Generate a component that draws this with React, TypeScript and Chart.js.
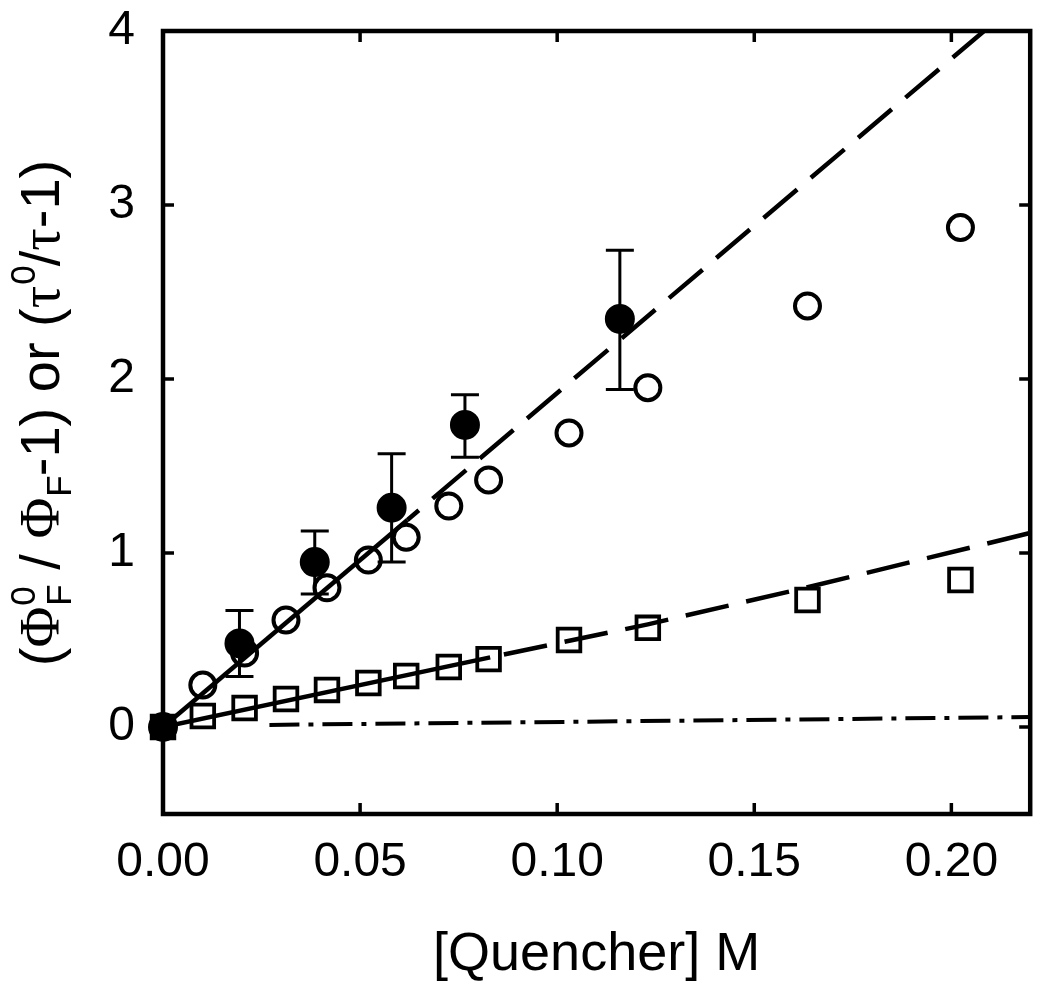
import { useEffect, useRef } from "react";
import { Chart, registerables } from "chart.js";

Chart.register(...registerables);

// ---- data ----
const xTicks = [0, 0.05, 0.1, 0.15, 0.2];
const yTicks = [0, 1, 2, 3, 4];

// filled circles (with error bars)
const filledX = [0, 0.0194, 0.0385, 0.058, 0.0766, 0.1159];
const filledY = [0, 0.48, 0.948, 1.26, 1.736, 2.345];
const filledLow = [0, 0.29, 0.764, 0.948, 1.55, 1.94];
const filledHigh = [0, 0.67, 1.126, 1.57, 1.91, 2.74];

// open circles
const openX = [0.0101, 0.0207, 0.0312, 0.0416, 0.0521, 0.0617, 0.0725, 0.0826, 0.103, 0.123, 0.1635, 0.2023];
const openY = [0.241, 0.425, 0.615, 0.8, 0.96, 1.09, 1.27, 1.42, 1.69, 1.95, 2.42, 2.87];

// open squares (origin square is filled)
const squareX = [0, 0.0101, 0.0207, 0.0312, 0.0416, 0.0521, 0.0617, 0.0725, 0.0826, 0.103, 0.123, 0.1635, 0.2023];
const squareY = [0, 0.063, 0.109, 0.161, 0.213, 0.253, 0.293, 0.345, 0.39, 0.5, 0.57, 0.73, 0.845];

// fit lines
const fitCircSolidX = [0, 0.062];
const fitCircSolidY = [0, 1.19];
const fitCircDashX = [0.062, 0.2083];
const fitCircDashY = [1.19, 4.0];
const fitSqSolidX = [0, 0.083];
const fitSqSolidY = [0, 0.4];
const fitSqDashX = [0.083, 0.123, 0.163, 0.22];
const fitSqDashY = [0.4, 0.59, 0.8, 1.115];
const dashDotX = [0.027, 0.22];
const dashDotY = [0.012, 0.057];

const xTitle = "[Quencher] M";

const pts = (xs: number[], ys: number[]) => xs.map((x, i) => ({ x, y: ys[i] }));

const SANS = "'Liberation Sans', Arial, Helvetica, sans-serif";
const SERIF = "'Liberation Serif', 'Times New Roman', serif";

const framePlugin = {
  id: "frame",
  beforeDatasetsDraw(chart: any) {
    const ctx = chart.ctx;
    const xs = chart.scales.x;
    const ys = chart.scales.y;
    ctx.save();
    ctx.strokeStyle = "#000";
    ctx.lineWidth = 3;
    const cap = 14;
    filledX.forEach((x, i) => {
      if (filledHigh[i] === filledLow[i]) return;
      const px = xs.getPixelForValue(x);
      const pTop = ys.getPixelForValue(filledHigh[i]);
      const pBot = ys.getPixelForValue(filledLow[i]);
      ctx.beginPath();
      ctx.moveTo(px, pTop);
      ctx.lineTo(px, pBot);
      ctx.moveTo(px - cap, pTop);
      ctx.lineTo(px + cap, pTop);
      ctx.moveTo(px - cap, pBot);
      ctx.lineTo(px + cap, pBot);
      ctx.stroke();
    });
    ctx.restore();
  },
  afterDraw(chart: any) {
    const ctx = chart.ctx;
    const a = chart.chartArea;
    const xs = chart.scales.x;
    const ys = chart.scales.y;
    ctx.save();
    ctx.strokeStyle = "#000";
    ctx.lineWidth = 4.5;
    ctx.lineJoin = "miter";
    ctx.strokeRect(a.left, a.top, a.right - a.left, a.bottom - a.top);
    ctx.lineWidth = 3.5;
    const tl = 11;
    ctx.beginPath();
    xTicks.forEach((v) => {
      const p = xs.getPixelForValue(v);
      ctx.moveTo(p, a.bottom);
      ctx.lineTo(p, a.bottom - tl);
      ctx.moveTo(p, a.top);
      ctx.lineTo(p, a.top + tl);
    });
    yTicks.forEach((v) => {
      const p = ys.getPixelForValue(v);
      ctx.moveTo(a.left, p);
      ctx.lineTo(a.left + tl, p);
      ctx.moveTo(a.right, p);
      ctx.lineTo(a.right - tl, p);
    });
    ctx.stroke();

    // x title
    ctx.fillStyle = "#000";
    ctx.font = `54px ${SANS}`;
    ctx.textAlign = "center";
    ctx.textBaseline = "alphabetic";
    ctx.fillText(xTitle, (a.left + a.right) / 2, 970);

    // y title with sub/superscripts
    const F = 56;
    const small = Math.round(F * 0.62);
    type Piece = { t: string; serif?: boolean; sub?: string; sup?: string };
    const pieces: Piece[] = [
      { t: "(" },
      { t: "Φ", serif: true, sub: "F", sup: "0" },
      { t: " / " },
      { t: "Φ", serif: true, sub: "F" },
      { t: "-1) or (" },
      { t: "τ", serif: true, sup: "0" },
      { t: "/" },
      { t: "τ", serif: true },
      { t: "-1)" },
    ];
    const mainFont = (p: Piece) => `${F}px ${p.serif ? SERIF : SANS}`;
    const smallFont = `${small}px ${SANS}`;
    let total = 0;
    const widths = pieces.map((p) => {
      ctx.font = mainFont(p);
      let w = ctx.measureText(p.t).width;
      ctx.font = smallFont;
      const ws = p.sub ? ctx.measureText(p.sub).width : 0;
      const wp = p.sup ? ctx.measureText(p.sup).width : 0;
      w += Math.max(ws, wp);
      total += w;
      return w;
    });
    ctx.translate(59, 413);
    ctx.rotate(-Math.PI / 2);
    ctx.textAlign = "left";
    let x = -total / 2;
    pieces.forEach((p, i) => {
      ctx.font = mainFont(p);
      ctx.fillText(p.t, x, 0);
      const w0 = ctx.measureText(p.t).width;
      ctx.font = smallFont;
      if (p.sub) ctx.fillText(p.sub, x + w0 + 1, F * 0.22);
      if (p.sup) ctx.fillText(p.sup, x + w0 + 1, -F * 0.42);
      x += widths[i];
    });
    ctx.restore();
  },
};

export default function App() {
  const ref = useRef<HTMLCanvasElement | null>(null);
  useEffect(() => {
    document.body.style.margin = "0";
    const canvas = ref.current!;
    const lineDs = (xs: number[], ys: number[], dash: number[], width = 4.5, offset = 0) => ({
      type: "line" as const,
      data: pts(xs, ys),
      showLine: true,
      borderColor: "#000",
      borderWidth: width,
      borderDash: dash,
      borderDashOffset: offset,
      borderCapStyle: "butt" as const,
      pointRadius: 0,
      fill: false,
      tension: 0,
    });
    const chart = new Chart(canvas, {
      type: "scatter",
      data: {
        datasets: [
          lineDs(fitCircSolidX, fitCircSolidY, []),
          lineDs(fitCircDashX, fitCircDashY, [44, 18], 4.5, 29),
          lineDs(fitSqSolidX, fitSqSolidY, []),
          lineDs(fitSqDashX, fitSqDashY, [44, 18], 4.5, 48),
          lineDs(dashDotX, dashDotY, [30, 9, 5, 9], 4),
          {
            data: pts(squareX, squareY),
            pointStyle: "rect",
            pointRadius: 16,
            pointBorderWidth: 3.8,
            pointBorderColor: "#000",
            pointBackgroundColor: (c: any) => (c.raw && c.raw.x === 0 ? "#000" : "rgba(0,0,0,0)"),
            showLine: false,
            clip: false,
          } as any,
          {
            data: pts(openX, openY),
            pointStyle: "circle",
            pointRadius: 12.5,
            pointBorderWidth: 4,
            pointBorderColor: "#000",
            pointBackgroundColor: "rgba(0,0,0,0)",
            showLine: false,
            clip: false,
          } as any,
          {
            data: pts(filledX, filledY),
            pointStyle: "circle",
            pointRadius: 14,
            pointBorderWidth: 2,
            pointBorderColor: "#000",
            pointBackgroundColor: "#000",
            showLine: false,
            clip: false,
          } as any,
        ],
      },
      options: {
        responsive: false,
        animation: false,
        devicePixelRatio: 1,
        layout: { padding: { top: 31, right: 16, left: 0, bottom: 0 } },
        plugins: { legend: { display: false }, tooltip: { enabled: false } },
        scales: {
          x: {
            type: "linear",
            min: 0,
            max: 0.22,
            grid: { display: false, drawTicks: false },
            border: { display: false },
            afterBuildTicks: (s: any) => {
              s.ticks = xTicks.map((v) => ({ value: v }));
            },
            afterFit: (s: any) => {
              s.height = 184;
              s.paddingLeft = 0;
              s.paddingRight = 0;
            },
            ticks: {
              padding: 20,
              maxRotation: 0,
              autoSkip: false,
              color: "#000",
              font: { family: SANS, size: 48 },
              callback: (v: any) => Number(v).toFixed(2),
            },
          },
          y: {
            type: "linear",
            min: -0.5,
            max: 4,
            grid: { display: false, drawTicks: false },
            border: { display: false },
            afterBuildTicks: (s: any) => {
              s.ticks = yTicks.map((v) => ({ value: v }));
            },
            afterFit: (s: any) => {
              s.width = 163;
              s.paddingTop = 0;
              s.paddingBottom = 0;
            },
            ticks: {
              padding: 28,
              autoSkip: false,
              color: "#000",
              font: { family: SANS, size: 48 },
              callback: (v: any) => String(v),
            },
          },
        },
      },
      plugins: [framePlugin],
    } as any);
    return () => chart.destroy();
  }, []);
  return <canvas ref={ref} width={1050} height={998} style={{ display: "block", width: 1050, height: 998 }} />;
}
